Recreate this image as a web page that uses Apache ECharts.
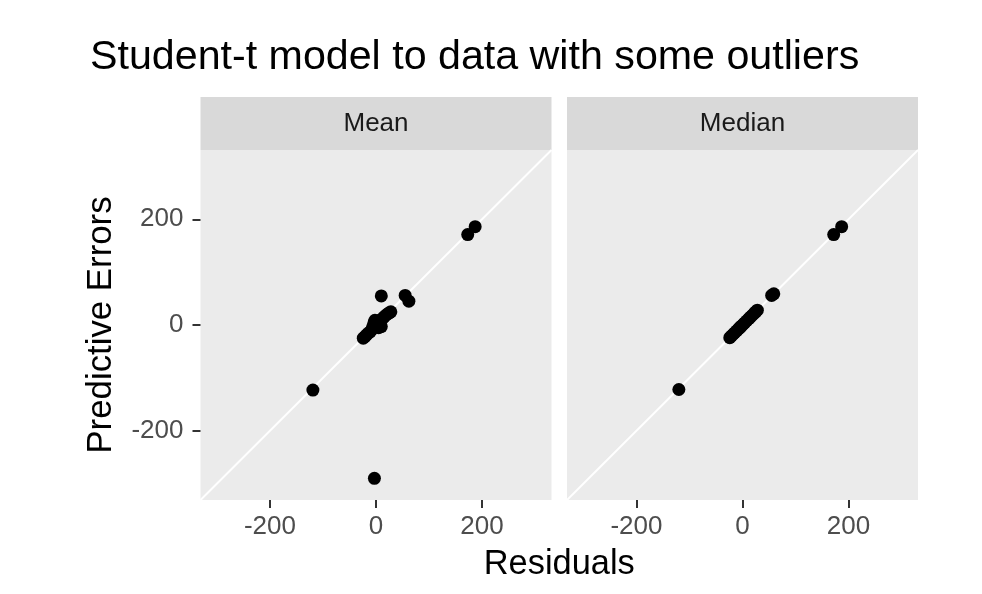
<!DOCTYPE html>
<html><head><meta charset="utf-8">
<script src="https://cdn.jsdelivr.net/npm/echarts@6/dist/echarts.min.js"></script>
<style>html,body{margin:0;padding:0;background:#fff}#c{width:982px;height:594px}</style>
</head><body><div id="c"></div><script>
const chartTitle = 'Student-t model to data with some outliers';
const panelNames = ['Mean', 'Median'];
const xTitle = 'Residuals';
const yTitle = 'Predictive Errors';
const tickValues = [-200, 0, 200];
const axisLimits = [-331, 331];

const meanResiduals = [-24, -21, -18, -15, -11, -8, -6, -4, -2, 1, 4, 5, 8, 10, 12, 15, 18, 22, 25, 28, 10, 55, 62, -119, -3, 173, 187];
const meanErrors    = [-25, -22, -19, -16, -13, -9, -3, 4, 9, 2, 5, -5, 9, -3, 12, 15, 18, 21, 23, 25, 55, 56, 45, -123, -290, 171, 186];

const medianResiduals = [-24, -21, -18, -15, -11, -8, -6, -4, -2, 1, 4, 8, 12, 15, 18, 22, 25, 28, 55, 59, -120, 172, 187];
const medianErrors    = [-24, -21, -18, -15, -11, -8, -6, -4, -2, 1, 4, 8, 12, 15, 18, 22, 25, 28, 56, 59, -122, 171, 186];

const FONT = '"Liberation Sans", Arial, Helvetica, sans-serif';
const gridTop = 150, gridH = 350, gridW = 351;
const gridLefts = [200.5, 567];
const stripH = 53;

const chart = echarts.init(document.getElementById('c'), null, {renderer: 'canvas'});

function xAx(i) {
  return {
    type: 'value', gridIndex: i, min: axisLimits[0], max: axisLimits[1],
    axisLine: {show: false, onZero: false},
    axisTick: {show: true, customValues: tickValues, length: 8, lineStyle: {color: '#333333', width: 2}},
    axisLabel: {customValues: tickValues, color: '#4d4d4d', fontSize: 26, fontFamily: FONT, margin: 14},
    splitLine: {show: false}
  };
}
function yAx(i) {
  const first = i === 0;
  return {
    type: 'value', gridIndex: i, min: axisLimits[0], max: axisLimits[1],
    axisLine: {show: false, onZero: false},
    axisTick: {show: first, customValues: tickValues, length: 8, lineStyle: {color: '#333333', width: 2}},
    axisLabel: {show: first, customValues: tickValues, color: '#4d4d4d', fontSize: 26, fontFamily: FONT, margin: 17},
    splitLine: {show: false},
    name: first ? yTitle : '', nameLocation: 'middle', nameGap: 82,
    nameTextStyle: {fontSize: 34.8, color: '#000', fontFamily: FONT}
  };
}

const diag = [[axisLimits[0], axisLimits[0]], [axisLimits[1], axisLimits[1]]];
const zip = (a, b) => a.map((v, k) => [v, b[k]]);

const graphics = [];
panelNames.forEach((n, i) => {
  graphics.push({
    type: 'rect', left: gridLefts[i], top: gridTop - stripH,
    shape: {width: gridW, height: stripH}, style: {fill: '#D9D9D9'}, silent: true
  });
  graphics.push({
    type: 'text', x: gridLefts[i] + gridW / 2, y: gridTop - stripH / 2,
    style: {text: n, fill: '#1A1A1A', fontSize: 26, fontFamily: FONT, align: 'center', verticalAlign: 'middle'}
  });
});
graphics.push({
  type: 'text', x: (gridLefts[0] + gridLefts[1] + gridW) / 2, y: 565,
  style: {text: xTitle, fill: '#000', fontSize: 34.4, fontFamily: FONT, align: 'center', verticalAlign: 'middle'}
});

chart.setOption({
  animation: false,
  backgroundColor: '#ffffff',
  title: {text: chartTitle, left: 85, top: 32, textStyle: {fontSize: 41.2, fontWeight: 'normal', color: '#000', fontFamily: FONT}},
  grid: gridLefts.map(l => ({left: l, top: gridTop, width: gridW, height: gridH, show: true, backgroundColor: '#EBEBEB', borderWidth: 0})),
  xAxis: [xAx(0), xAx(1)],
  yAxis: [yAx(0), yAx(1)],
  graphic: graphics,
  series: [
    {type: 'line', xAxisIndex: 0, yAxisIndex: 0, data: diag, showSymbol: false, silent: true, lineStyle: {color: '#ffffff', width: 2}, z: 1},
    {type: 'line', xAxisIndex: 1, yAxisIndex: 1, data: diag, showSymbol: false, silent: true, lineStyle: {color: '#ffffff', width: 2}, z: 1},
    {type: 'scatter', xAxisIndex: 0, yAxisIndex: 0, data: zip(meanResiduals, meanErrors), symbolSize: 13, itemStyle: {color: '#000', opacity: 1}, z: 3},
    {type: 'scatter', xAxisIndex: 1, yAxisIndex: 1, data: zip(medianResiduals, medianErrors), symbolSize: 13, itemStyle: {color: '#000', opacity: 1}, z: 3}
  ]
});
</script></body></html>
